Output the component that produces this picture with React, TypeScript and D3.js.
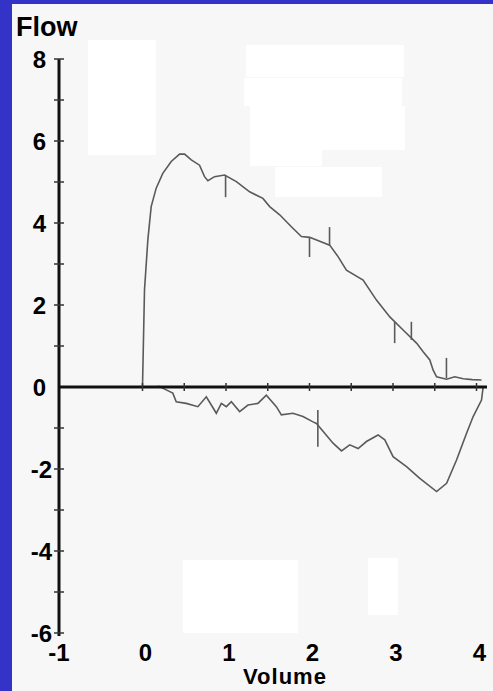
import React from "react";
import * as d3 from "d3";

const W = 493;
const H = 691;

// Expiratory limb (volume, flow)
const expVolume = [0, 0.024, 0.064, 0.104, 0.164, 0.243, 0.344, 0.444, 0.504, 0.584, 0.683, 0.743, 0.783, 0.863, 0.983, 1.124, 1.283, 1.442, 1.523, 1.643, 1.783, 1.903, 2.002, 2.242, 2.342, 2.442, 2.642, 2.802, 2.962, 3.121, 3.282, 3.361, 3.441, 3.481, 3.522, 3.642, 3.74, 3.841, 3.95, 4.06];
const expFlow = [0, 2.37, 3.59, 4.4, 4.85, 5.21, 5.5, 5.68, 5.68, 5.54, 5.41, 5.13, 5.03, 5.13, 5.17, 5.01, 4.76, 4.6, 4.4, 4.2, 3.91, 3.67, 3.65, 3.46, 3.18, 2.85, 2.61, 2.12, 1.71, 1.39, 1.07, 0.86, 0.66, 0.41, 0.25, 0.19, 0.25, 0.2, 0.18, 0.17];

// Inspiratory limb (volume, flow)
const inspVolume = [0.1, 0.204, 0.284, 0.363, 0.404, 0.524, 0.663, 0.764, 0.824, 0.884, 0.944, 1.004, 1.064, 1.163, 1.263, 1.382, 1.483, 1.603, 1.663, 1.802, 1.922, 2.042, 2.083, 2.182, 2.282, 2.383, 2.482, 2.582, 2.682, 2.821, 2.902, 3.001, 3.162, 3.321, 3.522, 3.642, 3.761, 3.881, 3.96, 4.06, 4.08];
const inspFlow = [0, 0.01, -0.07, -0.15, -0.36, -0.4, -0.48, -0.24, -0.44, -0.64, -0.4, -0.48, -0.36, -0.6, -0.44, -0.4, -0.2, -0.48, -0.68, -0.64, -0.72, -0.85, -0.89, -1.13, -1.37, -1.56, -1.41, -1.5, -1.33, -1.17, -1.29, -1.7, -1.94, -2.23, -2.55, -2.35, -1.78, -1.13, -0.72, -0.32, 0.01];

// Marker strokes on the curve: volume, flow from, flow to
const markerVolume = [0.995, 2.0, 2.24, 3.02, 3.22, 3.64, 2.1];
const markerFrom = [5.17, 3.66, 3.9, 1.59, 1.59, 0.71, -0.56];
const markerTo = [4.63, 3.17, 3.46, 1.07, 1.15, 0.22, -1.46];

const xTickLabels = [-1, 0, 1, 2, 3, 4];
const xMinorTicks = [0, 0.5, 1, 1.5, 2, 2.5, 3, 3.5, 4];
const yTickLabels = [8, 6, 4, 2, 0, -2, -4, -6];
const yMinorTicks = [8, 7, 6, 5, 4, 3, 2, 1, -1, -2, -3, -4, -5, -6];

export default function App() {
  const x = d3.scaleLinear().domain([-1, 4]).range([59, 476.5]);
  const y = d3.scaleLinear().domain([-6, 8]).range([633, 59]);

  const line = d3
    .line<[number, number]>()
    .x((d) => x(d[0]))
    .y((d) => y(d[1]));

  const expPts = expVolume.map((v, i) => [v, expFlow[i]] as [number, number]);
  const inspPts = inspVolume.map((v, i) => [v, inspFlow[i]] as [number, number]);

  const font = "'Liberation Sans', Arial, sans-serif";

  return (
    <svg
      width={W}
      height={H}
      style={{ position: "absolute", left: 0, top: 0 }}
      xmlns="http://www.w3.org/2000/svg"
    >
      <rect x={0} y={0} width={W} height={H} fill="#3333c8" />
      <rect x={12} y={4} width={W - 12} height={H - 4} fill="#f7f7f7" />
      {/* whited-out regions */}
      <g fill="#ffffff">
        <rect x={88} y={40} width={68} height={115} />
        <rect x={246} y={45} width={158} height={32} />
        <rect x={244} y={78} width={158} height={28} />
        <rect x={250} y={106} width={155} height={44} />
        <rect x={250} y={150} width={72} height={16} />
        <rect x={275} y={167} width={107} height={30} />
        <rect x={183} y={560} width={115} height={73} />
        <rect x={368} y={558} width={30} height={57} />
      </g>

      {/* curves */}
      <path d={line(expPts) || ""} fill="none" stroke="#5a5a5a" strokeWidth={1.6} />
      <path d={line(inspPts) || ""} fill="none" stroke="#5a5a5a" strokeWidth={1.6} />
      {markerVolume.map((v, i) => (
        <line
          key={"m" + i}
          x1={x(v)}
          x2={x(v)}
          y1={y(markerFrom[i])}
          y2={y(markerTo[i])}
          stroke="#5a5a5a"
          strokeWidth={1.6}
        />
      ))}

      {/* x axis */}
      <line x1={x(-1)} x2={487} y1={y(0)} y2={y(0)} stroke="#111" strokeWidth={3} />
      {xMinorTicks.map((t) => (
        <line key={"xt" + t} x1={x(t)} x2={x(t)} y1={y(0) - 4} y2={y(0) + 4} stroke="#333" strokeWidth={1.5} />
      ))}
      {/* y axis */}
      <line x1={x(-1)} x2={x(-1)} y1={y(8)} y2={y(-6) + 3} stroke="#111" strokeWidth={3} />
      {yMinorTicks.map((t) => (
        <line key={"yt" + t} x1={x(-1) - 5} x2={x(-1) + 5} y1={y(t)} y2={y(t)} stroke="#333" strokeWidth={1.5} />
      ))}

      {/* y tick labels */}
      {yTickLabels.map((t) => (
        <text
          key={"yl" + t}
          x={t < 0 ? 52 : 46}
          y={y(t)}
          dy="0.36em"
          textAnchor="end"
          fontFamily={font}
          fontWeight="bold"
          fontSize={24}
          fill="#000"
        >
          {t < 0 ? "-" + Math.abs(t) : String(t)}
        </text>
      ))}
      {/* x tick labels */}
      {xTickLabels.map((t) => (
        <text
          key={"xl" + t}
          x={x(t) + (t === -1 ? 0 : 3)}
          y={661}
          textAnchor="middle"
          fontFamily={font}
          fontWeight="bold"
          fontSize={24}
          fill="#000"
        >
          {t < 0 ? "-" + Math.abs(t) : String(t)}
        </text>
      ))}

      <text x={16} y={36} fontFamily={font} fontWeight="bold" fontSize={27} fill="#000">
        Flow
      </text>
      <text
        x={285}
        y={684}
        textAnchor="middle"
        fontFamily={font}
        fontWeight="bold"
        fontSize={22}
        letterSpacing={1}
        fill="#000"
      >
        Volume
      </text>
    </svg>
  );
}
